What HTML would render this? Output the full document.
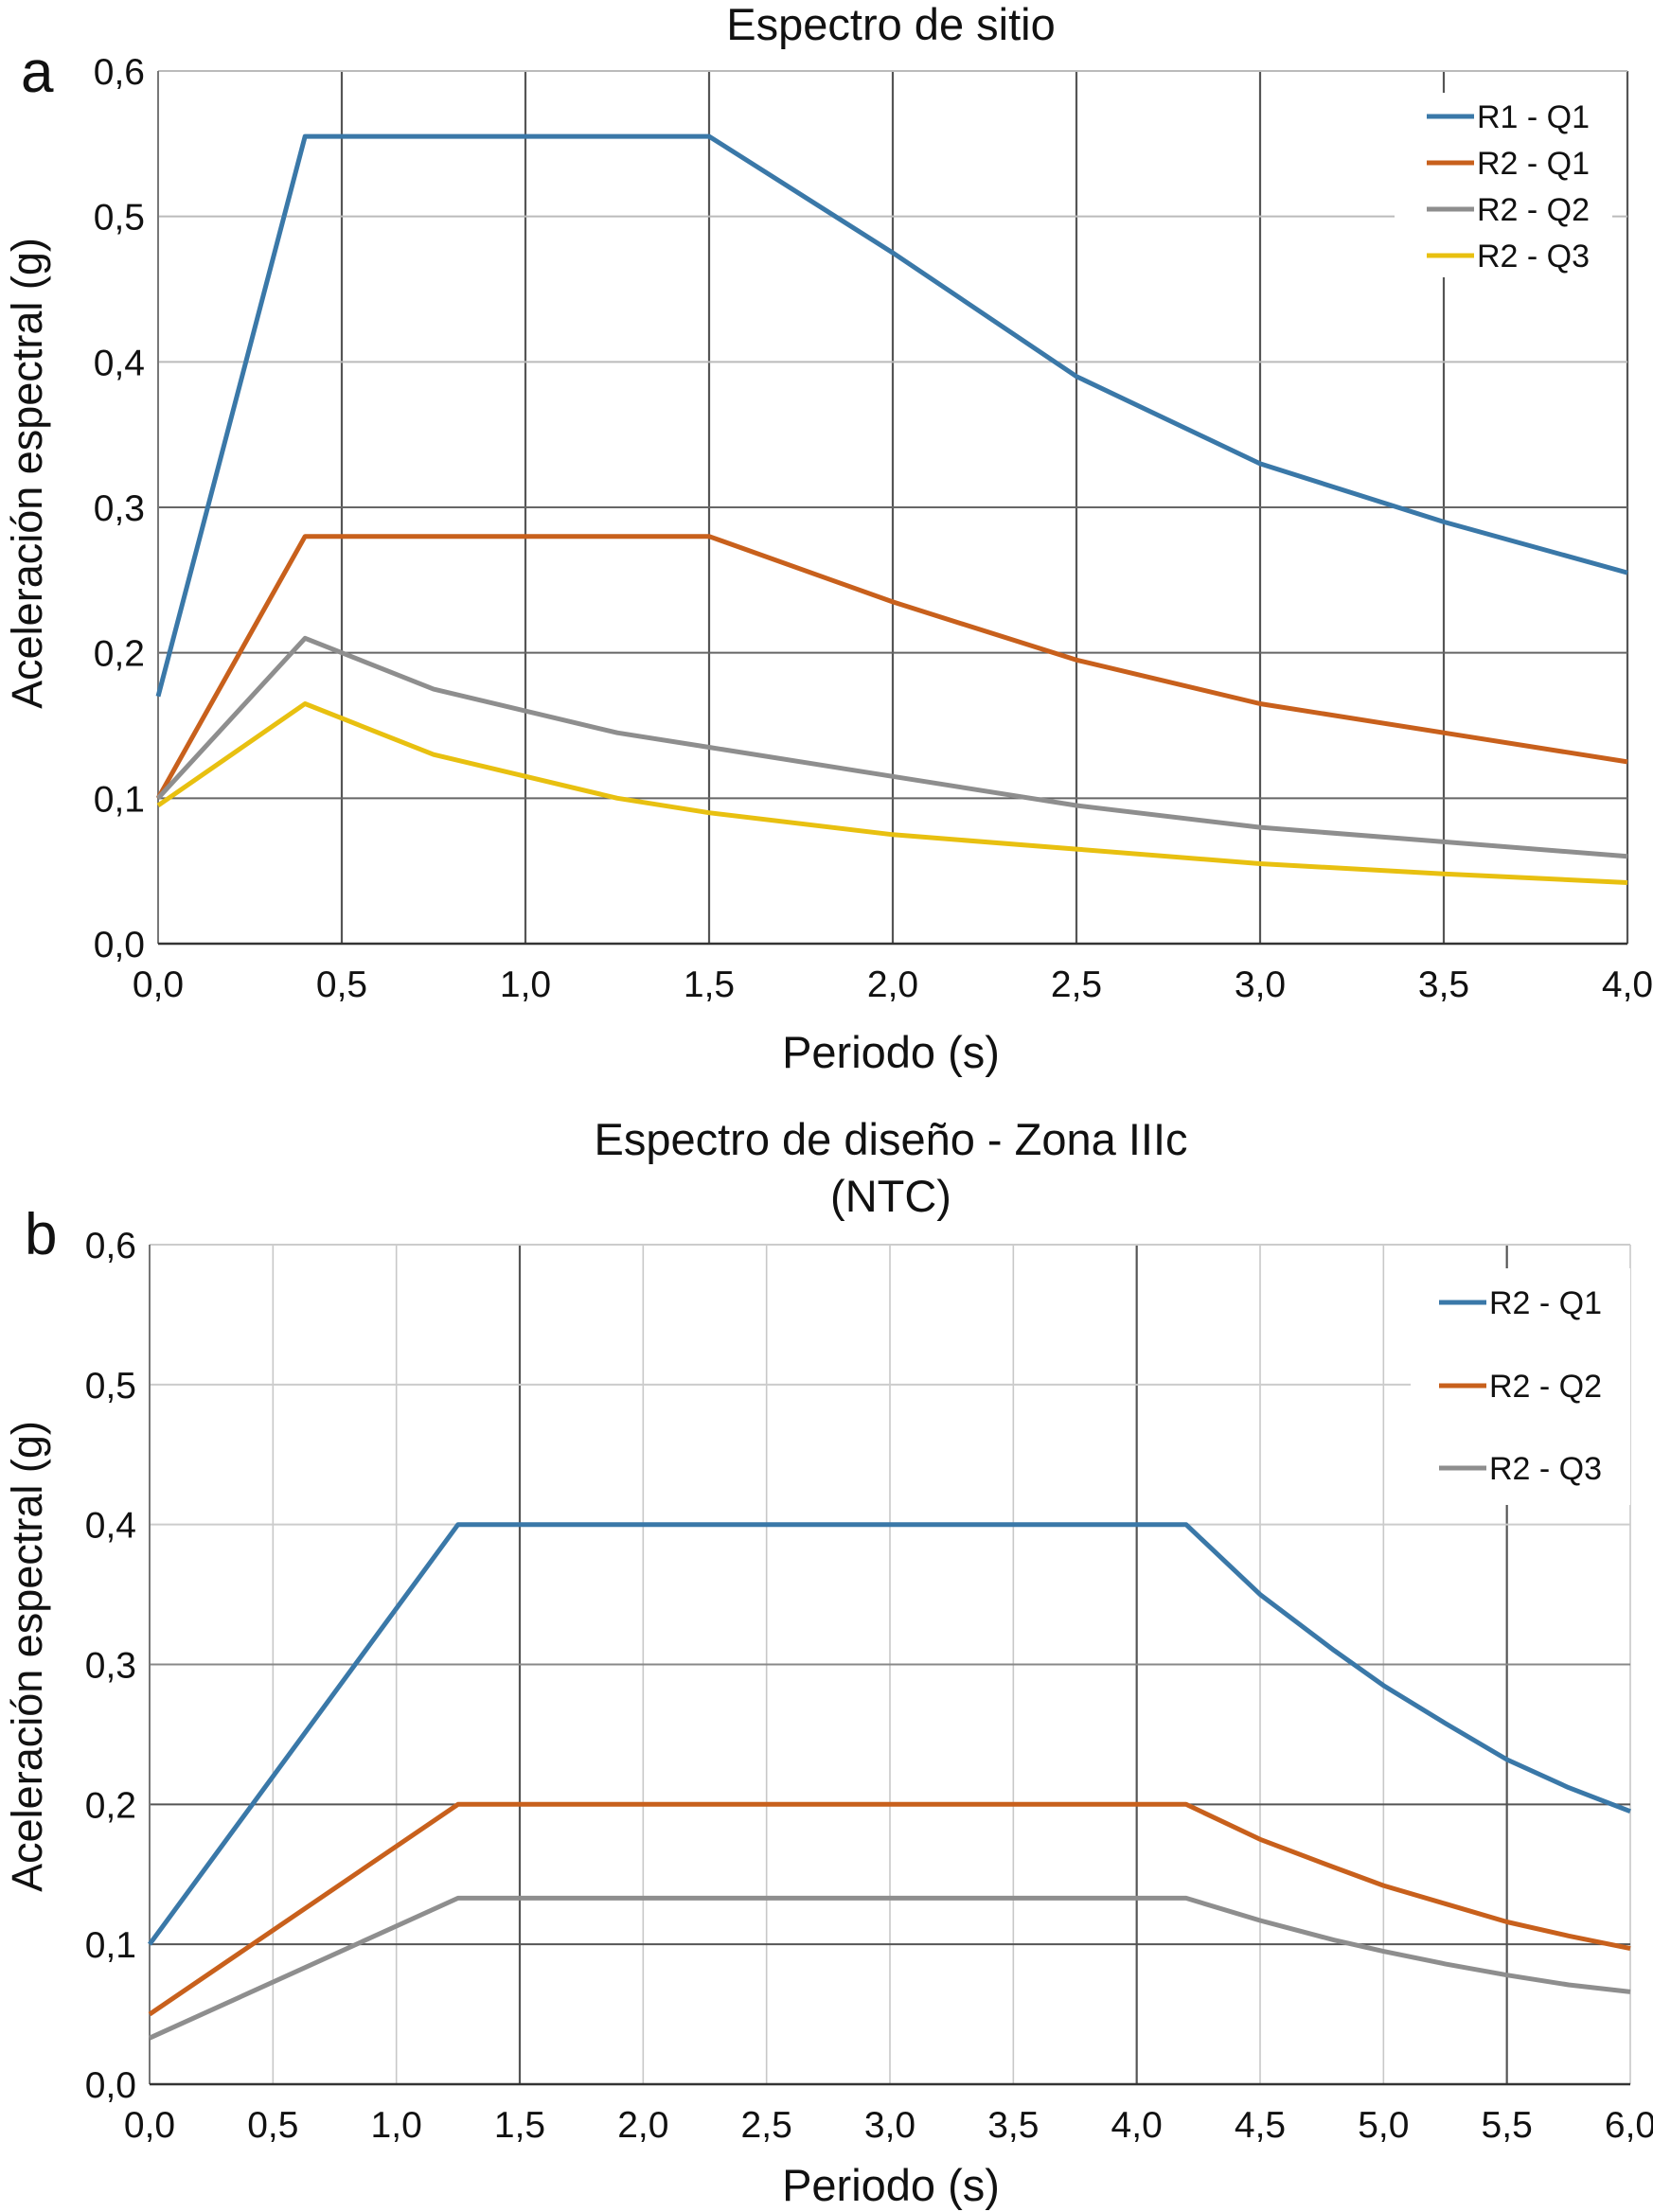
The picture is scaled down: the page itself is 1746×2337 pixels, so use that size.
<!DOCTYPE html>
<html><head><meta charset="utf-8"><style>
body{margin:0;background:#fff}
svg{display:block;font-family:"Liberation Sans",sans-serif}
</style></head><body>
<svg id="s" width="1746" height="2337" viewBox="0 0 1746 2337"></svg>
<script>
// Chart a data
const aSeriesNames=["R1 - Q1","R2 - Q1","R2 - Q2","R2 - Q3"];
const aR1Q1x=[0,0.4,1.5,2.0,2.5,3.0,3.5,4.0];
const aR1Q1y=[0.17,0.555,0.555,0.475,0.39,0.33,0.29,0.255];
const aR2Q1x=[0,0.4,1.5,2.0,2.5,3.0,3.5,4.0];
const aR2Q1y=[0.1,0.28,0.28,0.235,0.195,0.165,0.145,0.125];
const aR2Q2x=[0,0.4,0.75,1.25,1.5,2.0,2.5,3.0,3.5,4.0];
const aR2Q2y=[0.1,0.21,0.175,0.145,0.135,0.115,0.095,0.08,0.07,0.06];
const aR2Q3x=[0,0.4,0.75,1.25,1.5,2.0,2.5,3.0,3.5,4.0];
const aR2Q3y=[0.095,0.165,0.13,0.1,0.09,0.075,0.065,0.055,0.048,0.042];
const aXTicks=["0,0","0,5","1,0","1,5","2,0","2,5","3,0","3,5","4,0"];
const aYTicks=["0,0","0,1","0,2","0,3","0,4","0,5","0,6"];
// Chart b data
const bSeriesNames=["R2 - Q1","R2 - Q2","R2 - Q3"];
const bX=[0,1.25,4.2,4.5,4.8,5.0,5.25,5.5,5.75,6.0];
const bQ1y=[0.1,0.4,0.4,0.35,0.31,0.285,0.258,0.232,0.212,0.195];
const bQ2y=[0.05,0.2,0.2,0.175,0.155,0.142,0.129,0.116,0.106,0.097];
const bQ3y=[0.033,0.133,0.133,0.117,0.103,0.095,0.086,0.078,0.071,0.066];
const bXTicks=["0,0","0,5","1,0","1,5","2,0","2,5","3,0","3,5","4,0","4,5","5,0","5,5","6,0"];
const bYTicks=["0,0","0,1","0,2","0,3","0,4","0,5","0,6"];
const colors=["#3a78a8","#c8601c","#8e8e8e","#e8c010"];
const bColors=["#3a78a8","#c8601c","#8e8e8e"];

const NS="http://www.w3.org/2000/svg";
const svg=document.getElementById('s');
function mk(tag,attrs,parent,text){const e=document.createElementNS(NS,tag);for(const k in attrs)e.setAttribute(k,attrs[k]);if(text!==undefined)e.textContent=text;(parent||svg).appendChild(e);return e;}

function chart(o){
  const g=mk('g',{});
  
  
  const sx=v=>o.x0+(v-o.xmin)/(o.xmax-o.xmin)*(o.x1-o.x0);
  const sy=v=>o.y0-(v/0.6)*(o.y0-o.y1);
  const n=o.xt.length;
  for(let i=0;i<n;i++){const v=o.xmin+i*(o.xmax-o.xmin)/(n-1);const x=sx(v);
    const l=mk('line',{x1:x,x2:x,y1:o.y1,y2:o.y0,stroke:o.vdark(i)?'#555':'#c8c8c8','stroke-width':o.vdark(i)?2.2:1.6},g);
    
    const t=mk('text',{x:x,y:o.y0+56,'font-size':39,'text-anchor':'middle',fill:'#111'},g,o.xt[i]);
    }
  for(let i=0;i<o.yt.length;i++){const y=sy(i*0.1);
    const l=mk('line',{x1:o.x0,x2:o.x1,y1:y,y2:y,stroke:o.hcol(i),'stroke-width':2},g);
    
    const t=mk('text',{x:o.x0-14,y:y+14,'font-size':39,'text-anchor':'end',fill:'#111'},g,o.yt[i]);
    }
  let a=mk('line',{x1:o.x0,x2:o.x0,y1:o.y1,y2:o.y0,stroke:'#777','stroke-width':2},g);
  
  a=mk('line',{x1:o.x0,x2:o.x1,y1:o.y0,y2:o.y0,stroke:'#333','stroke-width':2.5},g);
  
  const lb=mk('rect',Object.assign({fill:'#fff'},o.legBox),g);
  
  o.series.forEach((s,k)=>{
    const pts=s.x.map((xv,i)=>sx(xv).toFixed(1)+','+sy(s.y[i]).toFixed(1)).join(' ');
    const p=mk('polyline',{points:pts,fill:'none',stroke:s.c,'stroke-width':5,'stroke-linejoin':'round'},g);
    
    
    const ly=o.legY[k];
    const ll=mk('line',{x1:o.legX,x2:o.legX+50,y1:ly,y2:ly,stroke:s.c,'stroke-width':5},g);
    
    const lt=mk('text',{x:o.legX+53,y:ly+12,'font-size':34,fill:'#111'},g,s.n);
    
  });
}

chart({name:'chart-a',x0:167,x1:1719,y0:997,y1:75,xmin:0,xmax:4,xt:aXTicks,yt:aYTicks,
  vdark:i=>i>0,hcol:i=>(i>=1&&i<=3)?'#666':(i===0?'#333':'#bbb'),
  legBox:{x:1473,y:98,width:230,height:195},legX:1507,legY:[123,172,221,270],
  series:[{n:aSeriesNames[0],x:aR1Q1x,y:aR1Q1y,c:colors[0]},{n:aSeriesNames[1],x:aR2Q1x,y:aR2Q1y,c:colors[1]},
   {n:aSeriesNames[2],x:aR2Q2x,y:aR2Q2y,c:colors[2]},{n:aSeriesNames[3],x:aR2Q3x,y:aR2Q3y,c:colors[3]}]});
chart({name:'chart-b',x0:158,x1:1722,y0:2202,y1:1315,xmin:0,xmax:6,xt:bXTicks,yt:bYTicks,
  vdark:i=>i===3||i===8||i===11,hcol:i=>(i===1||i===2)?'#555':(i===3?'#888':(i===0?'#333':'#ccc')),
  legBox:{x:1490,y:1340,width:232,height:250},legX:1520,legY:[1376,1464,1551],
  series:[{n:bSeriesNames[0],x:bX,y:bQ1y,c:bColors[0]},{n:bSeriesNames[1],x:bX,y:bQ2y,c:bColors[1]},{n:bSeriesNames[2],x:bX,y:bQ3y,c:bColors[2]}]});
</script>
<script>
(function(){
const NS="http://www.w3.org/2000/svg";const svg=document.getElementById('s');
function t(x,y,size,txt,name,rot){const e=document.createElementNS(NS,'text');e.setAttribute('x',x);e.setAttribute('y',y);e.setAttribute('font-size',size);e.setAttribute('text-anchor',rot==='start'?'start':'middle');e.setAttribute('fill','#111');if(rot&&rot!=='start')e.setAttribute('transform',rot);e.textContent=txt;


svg.appendChild(e);}
t(941,42,47,'Espectro de sitio','chart-a-title');
t(22,97,62,'a','panel-a-label','start');
t(941,1128,47,'Periodo (s)','chart-a-x-axis-title');
t(0,0,45,'Aceleración espectral (g)','chart-a-y-axis-title','translate(44,500) rotate(-90)');
t(941,1220,47,'Espectro de diseño - Zona IIIc','chart-b-title');
t(941,1280,47,'(NTC)','chart-b-title-line2');
t(26,1325,62,'b','panel-b-label','start');
t(941,2325,47,'Periodo (s)','chart-b-x-axis-title');
t(0,0,45,'Aceleración espectral (g)','chart-b-y-axis-title','translate(44,1750) rotate(-90)');
})();
</script>
</body></html>
